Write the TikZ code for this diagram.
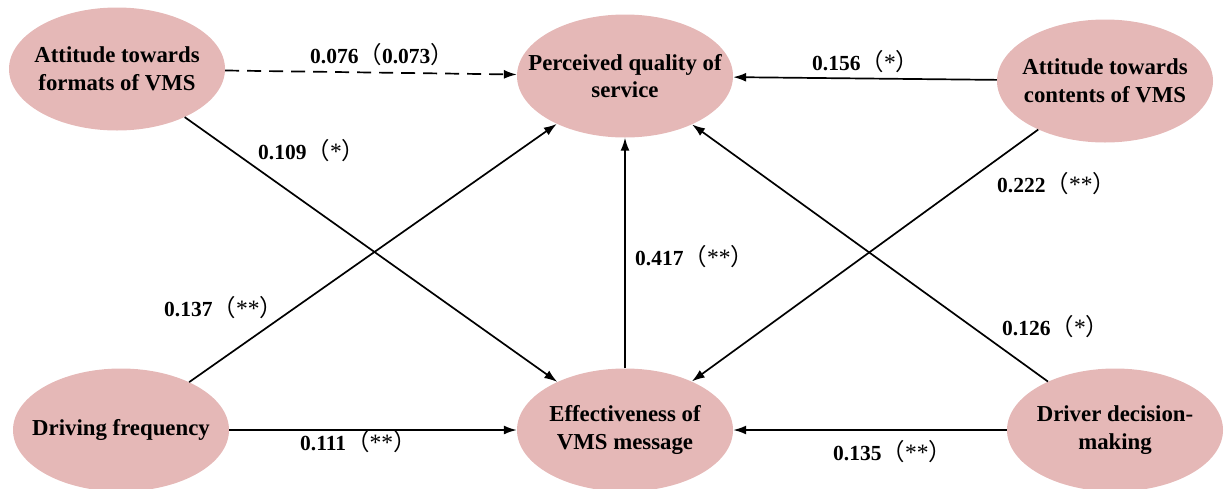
\documentclass[tikz,border=0pt]{standalone}
\usepackage{fontspec}
\setmainfont{Liberation Serif}
\newfontfamily\cjkfont{Noto Sans CJK SC}
\usetikzlibrary{arrows.meta,shapes.geometric}
\definecolor{nodepink}{RGB}{229,184,183}
% path coefficient with full-width brackets
\newcommand{\coef}[2]{#1{\fontsize{23.5}{25}\selectfont\cjkfont\mdseries （}#2{\fontsize{23.5}{25}\selectfont\cjkfont\mdseries ）}}
\newcommand{\stars}[1]{{\fontsize{23.5}{25}\selectfont\mdseries #1}}

\begin{document}
\begin{tikzpicture}[x=1pt,y=-1pt,
  construct/.style={ellipse, fill=nodepink, minimum width=216pt, minimum height=123pt,
    inner sep=0pt},
  caption/.style={inner sep=0pt, align=center, font=\fontsize{22.8}{27.5}\selectfont\bfseries},
  link/.style={line width=1.7pt, -{Latex[length=13pt,width=9pt]}},
  weaklink/.style={link, dash pattern=on 14pt off 8pt},
  coeflabel/.style={anchor=west, inner sep=0pt, font=\fontsize{21.5}{25}\selectfont\bfseries}]

\useasboundingbox (0,0) rectangle (1228,488);

% constructs
\node[construct] (fmt)  at (117,69)  {};
\node[construct] (pqs)  at (625,76)  {};
\node[construct] (cnt)  at (1105,81) {};
\node[construct] (drv)  at (121,430) {};
\node[construct] (eff)  at (625,430) {};
\node[construct] (dec)  at (1115,430){};

\node[caption] (fmt-t) at (fmt) {Attitude towards\\formats of VMS};
\node[caption] (pqs-t) at (pqs) {Perceived quality of\\service};
\node[caption] (cnt-t) at (cnt) {Attitude towards\\contents of VMS};
\node[caption] (drv-t) at (drv) {Driving frequency};
\node[caption] (eff-t) at (eff) {Effectiveness of\\VMS message};
\node[caption] (dec-t) at (dec) {Driver decision-\\making};

% paths
\draw[weaklink] (fmt) -- (pqs);
\draw[link] (cnt) -- (pqs);
\draw[link] (fmt) -- (eff);
\draw[link] (drv) -- (pqs);
\draw[link] (eff) -- (pqs);
\draw[link] (cnt) -- (eff);
\draw[link] (dec) -- (pqs);
\draw[link] (drv) -- (eff);
\draw[link] (dec) -- (eff);

% coefficients
\node[coeflabel] (l1) at (310,55)  {\coef{0.076}{0.073}};
\node[coeflabel] (l2) at (258,151) {\coef{0.109}{\stars{*}}};
\node[coeflabel] (l3) at (812,62)  {\coef{0.156}{\stars{*}}};
\node[coeflabel] (l4) at (997,184) {\coef{0.222}{\stars{**}}};
\node[coeflabel] (l5) at (635,257) {\coef{0.417}{\stars{**}}};
\node[coeflabel] (l6) at (164,308) {\coef{0.137}{\stars{**}}};
\node[coeflabel] (l7) at (1002,327){\coef{0.126}{\stars{*}}};
\node[coeflabel] (l8) at (300,442) {\coef{0.111}{\stars{**}}};
\node[coeflabel] (l9) at (833,452) {\coef{0.135}{\stars{**}}};
\end{tikzpicture}
\end{document}
